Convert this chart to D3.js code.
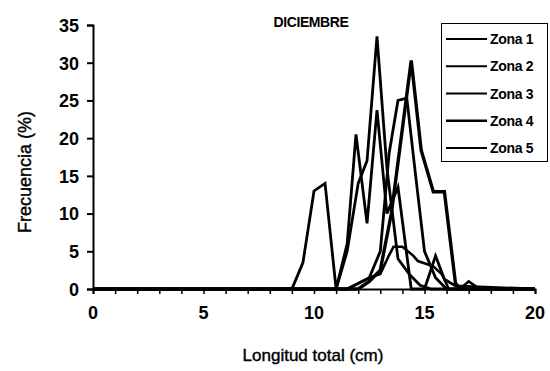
<!DOCTYPE html>
<html>
<head>
<meta charset="utf-8">
<script src="https://cdn.jsdelivr.net/npm/d3@7"></script>
<style>
  body { margin: 0; background: #fff; }
  text { font-family: "Liberation Sans", Arial, sans-serif; fill: #000; }
</style>
</head>
<body>
<script>
// valores (longitud en cm, frecuencia en %)
const titulo = "DICIEMBRE";
const zonas = ["Zona 1", "Zona 2", "Zona 3", "Zona 4", "Zona 5"];
const xTicks = [0, 5, 10, 15, 20];
const yTicks = [0, 5, 10, 15, 20, 25, 30, 35];

const zona1X = [0, 9, 9.5, 10, 10.5, 11, 11.5, 11.9, 12.4, 12.85, 13.3, 13.8, 14.4, 15, 15.5, 15.9, 16.4, 20];
const zona1Y = [0, 0, 3.5, 13, 14, 0, 6, 20.5, 8.7, 23.7, 10, 13.5, 0, 0, 4.4, 1.3, 0.4, 0];

const zona2X = [0, 11, 11.5, 12, 12.4, 12.85, 13.3, 13.8, 14.3, 14.8, 15.3, 20];
const zona2Y = [0, 0, 5, 14, 17, 33.5, 16, 4, 2, 0.5, 0, 0];

const zona3X = [0, 11.5, 12.5, 13, 13.4, 13.8, 14.2, 14.6, 15, 15.5, 16, 20];
const zona3Y = [0, 0, 1.5, 5, 18, 25, 25.3, 15, 5, 1.5, 0, 0];

const zona4X = [0, 12, 12.5, 13, 13.5, 14.4, 14.85, 15.4, 15.9, 16.4, 16.6, 20];
const zona4Y = [0, 0, 1, 2.5, 10, 30.3, 18.4, 12.9, 12.9, 0.8, 0, 0];

const zona5X = [0, 11.5, 12.6, 13, 13.4, 13.6, 14, 14.5, 14.7, 15.4, 15.8, 16.1, 16.6, 17, 17.5, 20];
const zona5Y = [0, 0, 1.6, 2, 4.5, 5.6, 5.6, 4.4, 3.7, 3, 1.9, 0, 0, 1, 0, 0];

const series = [
  { name: zonas[0], x: zona1X, y: zona1Y, w: 2.8 },
  { name: zonas[1], x: zona2X, y: zona2Y, w: 2.8 },
  { name: zonas[2], x: zona3X, y: zona3Y, w: 2.8 },
  { name: zonas[3], x: zona4X, y: zona4Y, w: 3.4 },
  { name: zonas[4], x: zona5X, y: zona5Y, w: 2.6 }
];

const width = 550, height = 371;
const svg = d3.select("body").append("svg")
  .attr("width", width).attr("height", height);

const x = d3.scaleLinear().domain([0, 20]).range([93, 535]);
const y = d3.scaleLinear().domain([0, 35]).range([289, 25]);

// título
svg.append("text")
  .attr("x", 311).attr("y", 27)
  .attr("text-anchor", "middle")
  .style("font-size", "14px").style("font-weight", "bold")
  .style("letter-spacing", "-0.4px")
  .text(titulo);

// líneas
const line = d3.line().x(d => x(d[0])).y(d => y(d[1]));
svg.append("g").selectAll("path")
  .data(series)
  .join("path")
  .attr("fill", "none")
  .attr("stroke", "#000")
  .attr("stroke-width", d => d.w)
  .attr("stroke-linejoin", "miter")
  .attr("d", d => line(d.x.map((v, i) => [v, d.y[i]])));

// eje y
const yAxis = svg.append("g")
  .attr("transform", `translate(${x(0)},0)`)
  .call(d3.axisLeft(y).tickValues(yTicks).tickSize(6).tickPadding(8));
yAxis.select(".domain").attr("stroke-width", 2);
yAxis.selectAll(".tick line").attr("stroke-width", 2);
yAxis.selectAll("text").style("font-size", "18px").style("font-weight", "bold").attr("dy", "0.35em");

// eje x
const xAxis = svg.append("g")
  .attr("transform", `translate(0,${y(0)})`)
  .call(d3.axisBottom(x).tickValues(d3.range(0, 21, 1)).tickSize(5).tickFormat(""));
xAxis.select(".domain").attr("stroke-width", 2);
xAxis.selectAll(".tick line").attr("stroke-width", 1.5);

svg.append("g").selectAll("text")
  .data(xTicks)
  .join("text")
  .attr("x", d => x(d)).attr("y", 319)
  .attr("text-anchor", "middle")
  .style("font-size", "18px").style("font-weight", "bold")
  .text(d => d);

// títulos de ejes
svg.append("text")
  .attr("x", 313).attr("y", 361)
  .attr("text-anchor", "middle")
  .style("font-size", "17px")
  .style("stroke", "#000").style("stroke-width", 0.4)
  .text("Longitud total (cm)");

svg.append("text")
  .attr("transform", "translate(31,172) rotate(-90)")
  .attr("text-anchor", "middle")
  .style("font-size", "18px")
  .style("stroke", "#000").style("stroke-width", 0.4)
  .text("Frecuencia (%)");

// leyenda
const legend = svg.append("g");
legend.append("rect")
  .attr("x", 441.5).attr("y", 23.5).attr("width", 106).attr("height", 138)
  .attr("fill", "#fff").attr("stroke", "#000").attr("stroke-width", 1);
const ly = d3.scalePoint().domain(zonas).range([39, 148]);
const item = legend.selectAll("g.item")
  .data(series)
  .join("g").attr("class", "item")
  .attr("transform", d => `translate(0,${ly(d.name)})`);
item.append("line")
  .attr("x1", 446).attr("x2", 487)
  .attr("stroke", "#000").attr("stroke-width", d => d.w * 0.8);
item.append("text")
  .attr("x", 490).attr("y", 5)
  .style("font-size", "14px").style("font-weight", "bold")
  .style("letter-spacing", "-0.3px")
  .text(d => d.name);
</script>
</body>
</html>
